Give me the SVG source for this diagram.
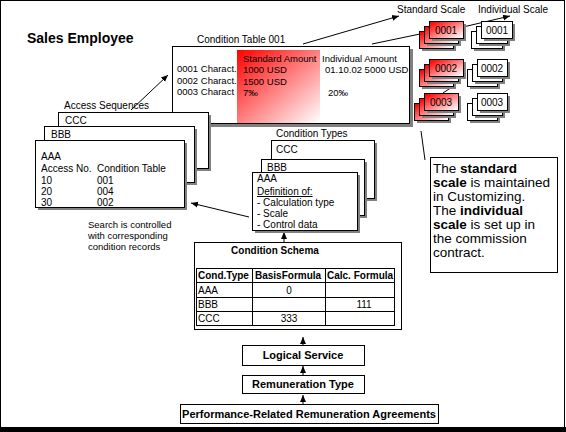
<svg xmlns="http://www.w3.org/2000/svg" width="566" height="432" viewBox="0 0 566 432">
<defs>
<linearGradient id="gRed" x1="0" y1="0" x2="1" y2="1">
<stop offset="0" stop-color="#ff0000"/>
<stop offset="1" stop-color="#ffffff"/>
</linearGradient>
<linearGradient id="gCard" x1="0" y1="0" x2="1" y2="1">
<stop offset="0.05" stop-color="#ff0000"/>
<stop offset="0.95" stop-color="#ffffff"/>
</linearGradient>
<marker id="ah" markerWidth="8" markerHeight="8" refX="7" refY="4" orient="auto" markerUnits="userSpaceOnUse">
<path d="M0,1 L7,4 L0,7 z" fill="#000"/>
</marker>
</defs>
<style>
.b{fill:#fff;stroke:#000;stroke-width:1}
.r{fill:url(#gCard);stroke:#000;stroke-width:1}
.sh{fill:#808080}
.t{font-family:"Liberation Sans",Arial,sans-serif;font-size:10px;fill:#000}
.s9{font-size:9.5px}
.bd{font-weight:bold}
.c{text-anchor:middle}
.ln{stroke:#000;stroke-width:1;fill:none}
.ar{stroke:#000;stroke-width:1;fill:none;marker-end:url(#ah)}
.tb{font-family:"Liberation Sans",Arial,sans-serif;font-size:13.5px;fill:#000}
</style>
<rect x="0.5" y="0.5" width="564" height="427" fill="#fff" stroke="#000"/>
<rect x="0" y="427" width="566" height="5" fill="#000"/>
<text class="t bd" x="27" y="43" style="font-size:14px">Sales Employee</text>

<g id="connectors">
<line class="ar" x1="131" y1="110" x2="168" y2="75"/>
<line class="ar" x1="303" y1="44" x2="399" y2="16"/>
<line class="ln" x1="372" y1="44" x2="420" y2="34"/>
<line class="ar" x1="463" y1="27" x2="510" y2="16"/>
<line class="ln" x1="443" y1="93" x2="452" y2="87"/>
<line class="ln" x1="421" y1="131" x2="425" y2="160"/>
<line class="ar" x1="249" y1="217" x2="191" y2="203"/>
<line class="ar" x1="284" y1="242" x2="284" y2="232"/>
<line class="ar" x1="303" y1="345" x2="303" y2="337"/>
<line class="ar" x1="303" y1="375" x2="303" y2="366"/>
<line class="ar" x1="303" y1="404" x2="303" y2="395"/>
</g>

<g id="condition-table">
<text class="t" x="197" y="43">Condition Table 001</text>
<rect class="sh" x="175" y="49" width="238" height="78"/>
<rect class="b" x="172.5" y="46.5" width="237" height="77"/>
<rect x="237" y="50" width="83" height="73" fill="url(#gRed)"/>
<text class="t s9" x="177" y="72">0001 Charact.</text>
<text class="t s9" x="177" y="84">0002 Charact.</text>
<text class="t s9" x="177" y="95">0003 Charact</text>
<text class="t s9" x="243" y="62">Standard Amount</text>
<text class="t s9" x="243" y="73">1000 USD</text>
<text class="t s9" x="243" y="85">1500 USD</text>
<text class="t s9" x="243" y="96">7‰</text>
<text class="t s9" x="322" y="62">Individual Amount</text>
<text class="t s9" x="325" y="73">01.10.02  5000 USD</text>
<text class="t s9" x="328" y="96">20‰</text>
</g>

<g id="standard-scale">
<text class="t" x="397" y="13">Standard Scale</text>
<rect class="sh" x="422" y="34" width="34" height="17"/>
<rect class="r" x="419.5" y="31.5" width="34" height="17"/>
<rect class="sh" x="427" y="29" width="34" height="17"/>
<rect class="r" x="424.5" y="26.5" width="34" height="17"/>
<rect class="sh" x="432" y="24" width="34" height="17"/>
<rect class="r" x="429.5" y="21.5" width="34" height="17"/>
<text class="t c" x="446" y="34">0001</text>

<rect class="sh" x="422" y="72" width="34" height="17"/>
<rect class="r" x="419.5" y="69.5" width="34" height="17"/>
<rect class="sh" x="427" y="67" width="34" height="17"/>
<rect class="r" x="424.5" y="64.5" width="34" height="17"/>
<rect class="sh" x="432" y="62" width="34" height="17"/>
<rect class="r" x="429.5" y="59.5" width="34" height="17"/>
<text class="t c" x="446" y="72">0002</text>

<rect class="sh" x="417" y="106" width="34" height="17"/>
<rect class="r" x="414.5" y="103.5" width="34" height="17"/>
<rect class="sh" x="422" y="101" width="34" height="17"/>
<rect class="r" x="419.5" y="98.5" width="34" height="17"/>
<rect class="sh" x="427" y="96" width="34" height="17"/>
<rect class="r" x="424.5" y="93.5" width="34" height="17"/>
<text class="t c" x="441" y="106">0003</text>
</g>

<g id="individual-scale">
<text class="t" x="478" y="13">Individual Scale</text>
<rect class="sh" x="474" y="34" width="31" height="17"/>
<rect class="b" x="471.5" y="31.5" width="31" height="17"/>
<rect class="sh" x="479" y="29" width="31" height="17"/>
<rect class="b" x="476.5" y="26.5" width="31" height="17"/>
<rect class="sh" x="484" y="24" width="31" height="17"/>
<rect class="b" x="481.5" y="21.5" width="31" height="17"/>
<text class="t c" x="497" y="34">0001</text>

<rect class="sh" x="470" y="72" width="30" height="17"/>
<rect class="b" x="467.5" y="69.5" width="30" height="17"/>
<rect class="sh" x="475" y="67" width="30" height="17"/>
<rect class="b" x="472.5" y="64.5" width="30" height="17"/>
<rect class="sh" x="480" y="62" width="30" height="17"/>
<rect class="b" x="477.5" y="59.5" width="30" height="17"/>
<text class="t c" x="492" y="72">0002</text>

<rect class="sh" x="470" y="106" width="30" height="17"/>
<rect class="b" x="467.5" y="103.5" width="30" height="17"/>
<rect class="sh" x="475" y="101" width="30" height="17"/>
<rect class="b" x="472.5" y="98.5" width="30" height="17"/>
<rect class="sh" x="480" y="96" width="30" height="17"/>
<rect class="b" x="477.5" y="93.5" width="30" height="17"/>
<text class="t c" x="492" y="106">0003</text>
</g>

<g id="access-sequences">
<text class="t" x="64" y="109">Access Sequences</text>
<rect class="sh" x="61" y="115" width="150" height="56"/>
<rect class="b" x="58.5" y="112.5" width="150" height="56"/>
<text class="t" x="65" y="124">CCC</text>
<rect class="sh" x="47" y="129" width="150" height="56"/>
<rect class="b" x="44.5" y="126.5" width="150" height="56"/>
<text class="t" x="51" y="138">BBB</text>
<rect class="sh" x="38" y="143" width="149" height="67"/>
<rect class="b" x="35.5" y="140.5" width="149" height="67"/>
<text class="t" x="41" y="160">AAA</text>
<text class="t" x="41" y="172">Access No.</text>
<text class="t" x="97" y="172">Condition Table</text>
<text class="t" x="41" y="184">10</text>
<text class="t" x="97" y="184">001</text>
<text class="t" x="41" y="195">20</text>
<text class="t" x="97" y="195">004</text>
<text class="t" x="41" y="206">30</text>
<text class="t" x="97" y="206">002</text>
</g>

<g id="search-note">
<text class="t s9" x="88" y="228">Search is controlled</text>
<text class="t s9" x="88" y="239">with corresponding</text>
<text class="t s9" x="88" y="250">condition records</text>
</g>

<g id="condition-types">
<text class="t" x="276" y="137">Condition Types</text>
<rect class="sh" x="274" y="143" width="103" height="58"/>
<rect class="b" x="271.5" y="140.5" width="103" height="58"/>
<text class="t" x="276" y="153">CCC</text>
<rect class="sh" x="264" y="162" width="103" height="56"/>
<rect class="b" x="261.5" y="159.5" width="103" height="56"/>
<text class="t" x="267" y="171">BBB</text>
<rect class="sh" x="255" y="175" width="105" height="58"/>
<rect class="b" x="252.5" y="172.5" width="105" height="58"/>
<text class="t" x="257" y="182">AAA</text>
<text class="t" x="257" y="195" text-decoration="underline">Definition of:</text>
<text class="t" x="257" y="206">- Calculation type</text>
<text class="t" x="257" y="217">- Scale</text>
<text class="t" x="257" y="228">- Control data</text>
</g>

<g id="note-box">
<rect class="b" x="430.5" y="157.5" width="127" height="115"/>
<text class="tb" x="433" y="173">The <tspan font-weight="bold">standard</tspan></text>
<text class="tb" x="433" y="187"><tspan font-weight="bold">scale</tspan> is maintained</text>
<text class="tb" x="433" y="201">in Customizing.</text>
<text class="tb" x="433" y="215">The <tspan font-weight="bold">individual</tspan></text>
<text class="tb" x="433" y="229"><tspan font-weight="bold">scale</tspan> is set up in</text>
<text class="tb" x="433" y="243">the commission</text>
<text class="tb" x="433" y="257">contract.</text>
</g>

<g id="condition-schema">
<rect class="b" x="194.5" y="242.5" width="207" height="87"/>
<text class="t bd c" x="275" y="254">Condition Schema</text>
<rect class="b" x="196.5" y="268.5" width="198" height="57"/>
<line class="ln" x1="196" y1="282.5" x2="395" y2="282.5"/>
<line class="ln" x1="196" y1="297.5" x2="395" y2="297.5"/>
<line class="ln" x1="196" y1="311.5" x2="395" y2="311.5"/>
<line class="ln" x1="252.5" y1="268" x2="252.5" y2="326"/>
<line class="ln" x1="325.5" y1="268" x2="325.5" y2="326"/>
<text class="t bd" x="198" y="279">Cond.Type</text>
<text class="t bd" x="255" y="279">BasisFormula</text>
<text class="t bd" x="327" y="279">Calc. Formula</text>
<text class="t" x="198" y="294">AAA</text>
<text class="t c" x="289" y="294">0</text>
<text class="t" x="198" y="308">BBB</text>
<text class="t c" x="364" y="308">111</text>
<text class="t" x="198" y="322">CCC</text>
<text class="t c" x="289" y="322">333</text>
</g>

<g id="logical-service">
<rect class="b" x="242.5" y="345.5" width="122" height="20"/>
<text class="t bd c" x="303" y="359" style="font-size:11px">Logical Service</text>
</g>
<g id="remuneration-type">
<rect class="b" x="242.5" y="375.5" width="122" height="18"/>
<text class="t bd c" x="303" y="388" style="font-size:11px">Remuneration Type</text>
</g>
<g id="performance-agreements">
<rect class="b" x="180.5" y="404.5" width="258" height="19"/>
<text class="t bd c" x="309" y="418" style="font-size:11px">Performance-Related Remuneration Agreements</text>
</g>
</svg>
